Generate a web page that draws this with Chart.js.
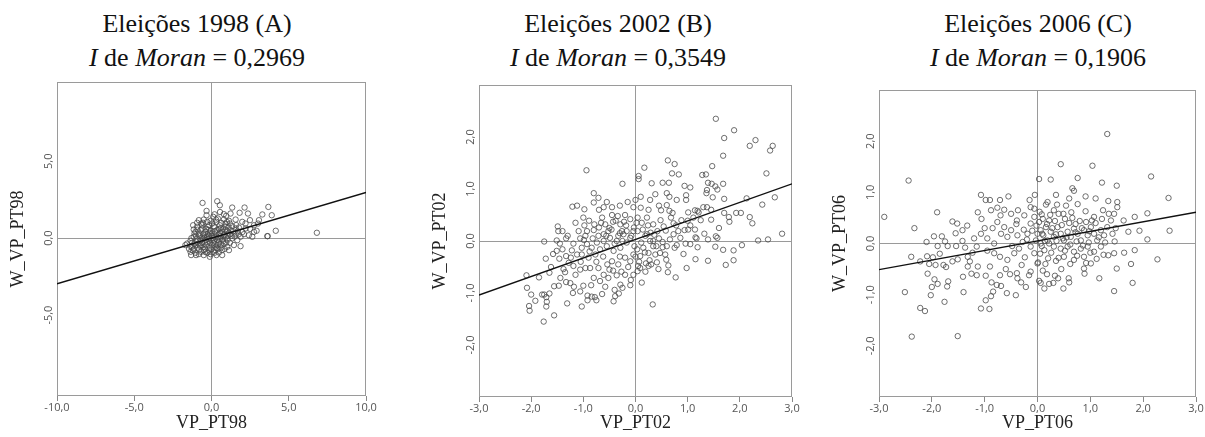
<!DOCTYPE html>
<html>
<head>
<meta charset="utf-8">
<script src="https://cdn.jsdelivr.net/npm/chart.js@4.4.1/dist/chart.umd.min.js"></script>
<style>
  body { margin: 0; width: 1205px; height: 437px; overflow: hidden; background: #fff; position: relative; }
  .titulo { position: absolute; top: 7px; width: 340px; margin-left: -170px; text-align: center;
            font-family: 'Liberation Serif', 'Times New Roman', serif; font-size: 26px; line-height: 34px; color: #111; }
  canvas { position: absolute; }
</style>
</head>
<body>
<div class="titulo" style="left:197px">Eleições 1998 (A)<br><i>I</i> de <i>Moran</i> = 0,2969</div>
<div class="titulo" style="left:618px">Eleições 2002 (B)<br><i>I</i> de <i>Moran</i> = 0,3549</div>
<div class="titulo" style="left:1038px">Eleições 2006 (C)<br><i>I</i> de <i>Moran</i> = 0,1906</div>
<canvas id="grafA"></canvas>
<canvas id="grafB"></canvas>
<canvas id="grafC"></canvas>
<script>
'use strict';

// pontos (VP_PT, W_VP_PT)
const pt98 = [[-0.58,2.29],[0.37,2.40],[0.54,2.14],[-0.32,1.77],[-0.32,1.49],[1.34,1.99],[2.14,1.99],[3.68,2.03],[0.80,1.56],[1.23,1.60],
  [1.82,1.65],[2.36,1.60],[3.29,1.54],[3.90,1.49],[-0.82,1.17],[-0.50,1.21],[-0.06,1.13],[0.32,1.06],[0.80,1.21],[1.13,1.13],
  [1.56,1.21],[1.99,1.06],[2.49,1.17],[3.07,1.17],[3.01,0.95],[2.75,0.84],[-1.19,0.84],[-0.93,0.74],[-0.61,0.84],[-0.24,0.74],
  [0.15,0.78],[0.54,0.84],[0.91,0.74],[1.34,0.78],[1.77,0.69],[2.21,0.63],[2.92,0.48],[4.16,0.48],[2.75,0.41],[2.42,0.19],
  [2.10,0.26],[2.64,0.09],[3.61,0.13],[6.82,0.35],[-1.04,0.41],[-0.71,0.52],[-0.39,0.41],[-0.06,0.48],[0.37,0.52],[0.69,0.41],
  [1.13,0.35],[1.56,0.30],[1.88,0.09],[-1.15,0.09],[-0.76,0.13],[-0.45,0.04],[-0.17,0.13],[0.19,0.09],[0.58,0.13],[0.91,0.04],
  [1.34,-0.02],[1.67,-0.13],[-1.36,-0.17],[-1.69,-0.45],[-0.97,-0.24],[-0.61,-0.30],[-0.28,-0.24],[0.11,-0.30],[0.48,-0.24],[0.80,-0.35],
  [1.19,-0.30],[1.45,-0.45],[1.88,-0.52],[-1.26,-0.56],[-0.89,-0.61],[-0.50,-0.56],[-0.11,-0.61],[0.26,-0.56],[0.63,-0.61],[1.02,-0.56],
  [-1.36,-0.89],[-1.04,-0.95],[-0.67,-0.89],[-0.28,-0.95],[0.11,-0.89],[0.48,-0.93],[0.69,-0.78],[-1.32,-1.10],[-0.82,-1.04],[-0.50,-1.10],
  [-0.06,-1.04],[-1.10,0.30],[-0.82,0.30],[-0.54,0.26],[-0.24,0.26],[0.04,0.30],[0.48,0.26],[0.80,0.19],[1.23,0.52],[1.56,0.63],
  [1.19,0.95],[0.63,1.00],[0.04,0.95],[-0.67,0.95],[-0.93,1.00],[-1.15,0.56],[-0.71,-0.13],[-0.39,-0.13],[-0.06,-0.09],[0.37,-0.09],
  [-1.04,-0.45],[-0.67,-0.45],[-0.32,-0.45],[0.04,-0.45],[0.41,-0.45],[1.13,-0.78],[-1.15,-0.71],[-0.50,-0.78],[0.26,-0.78],[-0.11,-1.21],
  [0.32,-1.10],[0.69,-1.10],[-1.58,-0.35],[-1.36,-0.52],[0.91,0.95],[-0.28,1.06],[0.41,1.28],[0.11,1.39],[3.64,0.13],
  [-1.25,-0.30],[-0.95,-0.05],[-0.62,0.62],[-0.35,0.60],[-0.10,0.35],[0.22,0.45],[0.50,0.60],[0.75,0.60],[1.00,0.50],[1.40,0.45],
  [-1.00,0.15],[-0.55,-0.02],[-0.20,-0.05],[0.10,0.00],[0.40,0.05],[0.70,-0.10],[1.05,0.15],[1.30,0.15],[-1.20,-0.80],[-0.80,-0.75],
  [-0.40,-0.70],[0.00,-0.72],[0.35,-0.65],[0.60,-0.40],[0.95,-0.30],[-0.85,-0.35],[-0.45,-0.35],[-0.10,-0.30],[0.25,-0.38],[0.55,0.35],
  [0.20,0.70],[-0.15,0.85],[-0.45,0.20],[0.85,0.25],[1.70,0.45],[2.00,0.40],[1.60,0.85],[2.20,0.95],[0.95,1.45],[0.55,1.70],[0.20,1.55],
  [-1.30,0.00],[-1.10,-0.35],[-0.90,0.55],[-0.75,-0.50],[-0.60,0.05],[-0.40,-0.90],[-0.20,0.55],[0.00,0.15],[0.15,-0.15],[0.30,0.30],
  [0.45,-0.70],[0.60,0.65],[0.75,-0.20],[0.90,0.55],[1.05,-0.10],[1.20,0.25],[1.50,0.10],[1.75,0.25],[-1.45,-0.70],[-1.00,-1.10],
  [-0.30,0.05],[0.20,-0.95],[0.85,-0.70],[-0.55,1.00],[0.30,1.20],[1.00,1.05],[2.50,0.60],[1.10,0.70],[-0.15,-0.80],[0.55,-0.05]];

const pt02 = [[1.54,2.35],[1.89,2.13],[1.70,1.98],[2.30,1.94],[2.19,1.83],[2.63,1.83],[2.58,1.74],[1.68,1.64],[1.47,1.44],[0.62,1.55],
  [0.75,1.48],[0.17,1.41],[-0.94,1.36],[0.06,1.25],[0.06,1.19],[0.70,1.30],[0.83,1.28],[1.28,1.27],[1.35,1.28],[2.51,1.30],
  [-0.25,1.10],[0.31,1.11],[0.52,1.12],[0.64,1.12],[1.39,1.12],[1.46,1.10],[1.68,1.10],[0.94,1.06],[1.05,1.03],[1.53,1.05],
  [1.57,0.99],[1.37,0.98],[1.36,0.92],[0.97,0.88],[0.60,0.92],[0.65,0.85],[0.10,0.85],[-0.80,0.92],[-0.71,0.83],[-0.80,0.74],
  [0.79,0.79],[0.97,0.79],[1.48,0.84],[1.70,0.81],[2.13,0.82],[2.67,0.84],[2.43,0.70],[0.28,0.79],[0.00,0.79],[0.45,0.68],
  [0.60,0.69],[-1.21,0.66],[-1.12,0.68],[-0.98,0.61],[-0.61,0.65],[-0.45,0.65],[-0.30,0.68],[-0.04,0.65],[0.10,0.64],[0.49,0.59],
  [0.71,0.54],[0.65,0.58],[1.01,0.55],[1.14,0.59],[1.19,0.58],[1.30,0.65],[1.37,0.65],[1.70,0.54],[1.93,0.54],[2.02,0.54],
  [2.19,0.46],[2.24,0.34],[1.79,0.46],[1.80,0.37],[1.45,0.41],[1.21,0.55],[1.11,0.45],[1.00,0.39],[0.73,0.34],[0.54,0.28],
  [0.94,0.21],[1.01,0.22],[1.14,0.22],[1.32,0.14],[1.15,0.07],[1.17,0.05],[1.54,0.09],[1.57,0.06],[1.39,0.03],[2.81,0.14],
  [2.35,0.01],[2.54,0.03],[2.04,-0.08],[1.88,-0.18],[1.68,-0.17],[1.53,-0.11],[1.88,-0.37],[1.73,-0.46],[1.39,-0.38],[1.15,-0.35],
  [0.98,-0.52],[0.77,-0.70],[1.19,-0.12],[1.05,-0.06],[0.96,-0.05],[0.79,-0.08],[0.75,-0.13],[0.60,-0.10],[0.52,-0.12],[0.59,-0.36],
  [0.63,-0.47],[0.44,-0.54],[0.33,-1.22],[0.41,-0.41],[0.27,-0.37],[0.20,-0.43],[0.05,-0.48],[0.04,-0.58],[0.19,-0.59],[-0.09,-0.75],
  [-0.10,-0.85],[-0.27,-0.59],[-0.36,-0.66],[-0.29,-0.84],[-0.32,-1.01],[-0.40,-0.94],[-0.39,-1.06],[-0.42,-1.16],[-0.64,-1.02],[-0.78,-1.08],
  [-0.84,-1.07],[-0.92,-1.05],[-0.92,-1.14],[-0.75,-1.14],[-1.03,-1.26],[-1.06,-0.97],[-1.00,-0.86],[-1.18,-0.88],[-1.25,-0.81],[-1.31,-1.20],
  [-1.33,-0.79],[-1.47,-0.86],[-1.56,-0.87],[-1.44,-0.71],[-1.56,-1.43],[-1.65,-1.01],[-1.70,-1.17],[-1.71,-1.08],[-1.75,-1.03],[-1.79,-1.03],
  [-1.76,-1.55],[-1.71,-1.26],[-2.04,-1.25],[-2.03,-1.34],[-2.00,-1.03],[-2.08,-0.90],[-2.09,-0.66],[-1.75,-0.01],[-1.72,-0.34],[-1.65,-0.61],
  [-1.51,0.01],[-1.49,0.28],[-1.48,0.19],[-1.40,0.19],[-1.33,0.05],[-1.51,-0.19],[-1.46,-0.34],[-1.40,-0.16],[-1.38,-0.54],[-1.33,-0.29],
  [-1.19,-0.05],[-1.19,-0.48],[-1.09,0.19],[-1.06,0.05],[-0.99,0.02],[-0.96,0.10],[-0.89,0.39],[-0.80,0.21],[-0.79,0.32],[-0.70,0.26],
  [-0.64,0.45],[-0.58,0.32],[-0.50,0.25],[-0.45,0.50],[-0.38,0.39],[-0.43,0.37],[-0.29,0.32],[-0.22,0.37],[-0.20,0.50],[-0.10,0.42],
  [-0.03,0.26],[0.04,0.45],[0.12,0.35],[0.22,0.45],[0.34,0.32],[0.42,0.19],[0.45,0.05],[0.29,0.16],[0.22,0.13],[0.11,-0.03],
  [0.04,0.19],[-0.04,0.19],[-0.10,0.06],[-0.17,-0.03],[-0.23,0.13],[-0.29,-0.13],[-0.36,0.00],[-0.42,-0.19],[-0.49,0.06],[-0.55,-0.10],
  [-0.61,0.00],[-0.68,-0.16],[-0.74,-0.03],[-0.77,-0.26],[-0.84,-0.13],[-0.90,-0.32],[-0.93,-0.06],[-1.03,-0.26],[-0.96,-0.52],[-0.87,-0.52],
  [-0.71,-0.52],[-0.61,-0.65],[-0.54,-0.45],[-0.45,-0.39],[-0.33,-0.45],[-0.20,-0.32],[-0.10,-0.39],[-0.04,-0.26],[0.03,-0.16],[0.09,-0.29],
  [0.15,-0.13],[0.25,-0.23],[0.34,-0.10],[0.38,-0.26],[0.47,-0.23],[0.57,-0.26],[0.66,0.03],[0.73,0.13],[0.82,0.19],[0.86,0.06],
  [0.34,0.00],[0.28,0.00],[0.19,0.10],[-0.17,0.19],[-0.26,0.19],[-0.33,0.10],[-1.03,-0.13],[-1.12,-0.26],[-1.24,-0.32],[-1.28,-0.42],
  [-1.06,-0.55],[-1.15,-0.65],[-0.80,-0.71],[-0.68,-0.77],[-0.52,-0.71],[-0.43,-0.57],[-0.20,-0.65],[-0.04,-0.65],[0.09,-0.52],[0.25,-0.48],
  [-0.93,0.19],[-0.71,0.10],[-0.61,0.13],[-0.52,0.19],
  [-1.45,-0.05],[-1.30,0.10],[-1.22,-0.18],[-1.15,0.35],[-1.05,-0.40],[-0.98,0.30],[-0.88,-0.20],[-0.82,0.05],[-0.75,-0.40],[-0.66,0.35],
  [-0.62,-0.30],[-0.56,0.10],[-0.50,-0.55],[-0.46,0.22],[-0.40,-0.05],[-0.34,0.48],[-0.30,-0.30],[-0.25,0.00],[-0.18,0.30],[-0.14,-0.50],
  [-0.08,0.10],[-0.02,-0.10],[0.02,0.35],[0.07,-0.40],[0.14,0.22],[0.18,-0.22],[0.24,0.30],[0.30,-0.45],[0.36,0.12],[0.40,-0.10],
  [0.48,0.40],[0.52,-0.02],[0.58,0.20],[0.62,-0.60],[0.68,0.45],[0.78,0.30],[0.88,0.40],[0.92,-0.25],[1.05,0.30],[1.25,0.40],
  [-1.62,-0.50],[-1.58,-0.25],[-1.85,-0.70],[-1.92,-1.15],[-1.35,-0.60],[-1.20,-1.00],[-0.58,-0.88],[-0.25,-0.90],[0.12,-0.80],[-0.70,0.60],
  [-0.55,0.75],[-0.15,0.75],[0.25,0.60],[0.38,0.90],[-1.00,0.45],[-0.30,0.15],[0.00,-0.30],[-0.85,-0.85],[1.45,0.60],[1.60,0.25]];

const pt06 = [[1.32,2.14],[0.44,1.55],[1.04,1.52],[-2.44,1.23],[0.03,1.26],[0.25,1.25],[2.15,1.31],[1.22,1.19],[1.50,1.13],[0.76,1.28],
  [-1.07,0.95],[-0.98,0.85],[-0.90,0.85],[-0.71,0.85],[-0.55,0.92],[-0.05,0.95],[0.66,1.08],[0.69,1.03],[0.91,0.92],[1.10,0.88],
  [1.34,0.83],[1.51,0.81],[2.48,0.89],[0.19,0.81],[0.37,0.76],[0.54,0.74],[0.76,0.77],[-2.90,0.52],[-2.33,0.30],[-1.90,0.61],
  [-1.61,0.43],[-1.52,0.39],[-1.33,0.35],[-1.13,0.61],[-1.06,0.48],[-0.88,0.65],[-0.76,0.70],[-0.63,0.66],[-0.50,0.58],[-0.37,0.65],
  [-0.39,0.45],[-0.26,0.27],[-0.13,0.71],[-0.06,0.68],[0.08,0.57],[0.16,0.76],[0.31,0.65],[0.49,0.58],[0.64,0.61],[0.91,0.63],
  [1.07,0.52],[1.24,0.65],[1.45,0.58],[1.63,0.45],[1.84,0.52],[2.08,0.59],[1.93,0.25],[1.72,0.23],[2.50,0.25],[2.08,0.08],
  [2.27,-0.31],[1.84,-0.13],[1.64,-0.18],[1.77,-0.40],[1.80,-0.77],[1.45,-0.93],[1.50,-0.49],[1.34,-0.23],[1.45,-0.19],[1.17,-0.68],
  [0.89,-0.59],[0.88,-0.49],[0.49,-0.88],[0.60,-0.76],[0.59,-0.68],[0.39,-0.68],[0.33,-0.63],[0.13,-0.88],[0.06,-0.77],[0.22,-0.79],
  [0.30,-0.77],[0.03,-0.73],[0.10,-0.53],[0.20,-0.29],[0.35,-0.34],[0.01,-0.37],[-0.13,-0.55],[-0.16,-0.62],[-0.31,-0.76],[-0.38,-0.68],
  [-0.39,-0.58],[-0.41,-1.01],[-0.58,-0.97],[-0.69,-0.83],[-0.77,-0.81],[-0.87,-0.76],[-0.71,-0.62],[-0.88,-1.03],[-0.84,-0.94],[-0.98,-1.11],
  [-0.91,-1.28],[-1.07,-1.27],[-0.98,-0.63],[-1.15,-0.62],[-1.13,-0.45],[-1.15,-0.06],[-1.23,-0.18],[-1.32,-0.26],[-1.40,-0.95],[-1.51,-1.81],
  [-2.38,-1.82],[-2.22,-1.26],[-2.13,-1.32],[-2.51,-0.95],[-2.02,-1.01],[-2.00,-0.85],[-1.89,-0.79],[-1.95,-0.70],[-1.76,-1.14],[-2.08,-0.59],
  [-1.69,-0.74],[-1.71,-0.84],[-1.73,-0.46],[-1.78,-0.42],[-1.93,-0.42],[-1.98,-0.27],[-2.09,-0.25],[-2.22,-0.35],[-2.39,-0.26],[-2.10,0.03],
  [-1.96,0.14],[-1.89,-0.05],[-1.81,0.14],[-1.75,0.04],[-1.70,-0.05],[-1.54,-0.05],[-1.42,0.05],[-1.37,-0.08],[-1.42,0.26],[-1.61,-0.35],
  [-1.51,-0.31],[-1.32,-0.45],[-1.25,-0.59],[-1.41,-0.65],[-0.95,-0.14],[-0.82,-0.19],[-0.71,-0.26],[-0.57,-0.32],[-0.44,-0.19],[-0.35,-0.10],
  [-0.24,-0.27],[-0.13,-0.06],[-0.06,-0.19],[0.00,-0.39],[-1.07,0.19],[-0.95,0.10],[-0.82,0.00],[-0.69,0.19],[-0.57,0.13],[-0.50,0.26],
  [-0.63,0.32],[-0.76,0.42],[-0.38,0.16],[-0.28,0.03],[-0.19,0.19],[-0.13,0.39],[-0.06,0.52],[0.03,0.42],[0.06,0.26],[0.11,0.16],
  [0.19,0.06],[0.25,0.23],[0.31,0.13],[0.38,0.32],[0.44,0.19],[0.50,0.06],[0.57,0.23],[0.63,0.13],[0.69,0.29],[0.76,0.19],
  [0.82,0.06],[0.88,0.26],[0.95,0.16],[1.01,0.32],[1.07,0.19],[1.13,0.06],[1.20,0.26],[1.26,0.16],[1.32,0.32],[1.39,0.45],
  [1.42,0.19],[0.31,-0.06],[0.44,-0.10],[0.57,-0.06],[0.69,-0.16],[0.82,-0.10],[0.95,-0.06],[1.07,-0.16],[1.20,-0.06],[0.13,-0.13],
  [0.06,0.00],[0.22,0.00],[0.50,-0.26],[0.69,-0.32],[0.88,-0.26],[1.01,-0.39],[-0.03,0.06],[0.09,0.19],[0.16,0.32],[0.22,0.45],
  [0.00,0.19],[1.51,0.71],
  [-0.25,0.55],[-0.20,0.08],[-0.10,0.25],[-0.02,0.35],[0.04,0.62],[0.10,0.48],[0.14,0.05],[0.18,0.38],[0.24,0.56],[0.28,0.30],
  [0.33,0.44],[0.36,0.05],[0.40,0.58],[0.46,0.36],[0.52,0.48],[0.55,0.12],[0.60,0.40],[0.62,-0.02],[0.66,0.50],[0.72,0.38],
  [0.74,0.04],[0.80,0.44],[0.84,0.30],[0.86,-0.04],[0.92,0.42],[0.97,0.02],[1.03,0.45],[1.10,0.40],[1.16,0.12],[1.22,0.48],
  [1.28,0.02],[1.35,0.58],[1.48,0.30],[1.46,0.04],[0.05,-0.20],[0.15,-0.40],[0.26,-0.18],[0.40,-0.28],[0.52,-0.14],[0.62,-0.40],
  [0.75,-0.24],[0.92,-0.38],[1.00,-0.18],[1.12,-0.30],[1.25,-0.22],[0.08,-0.05],[0.35,0.18],[0.48,0.10],[0.72,0.22],[0.98,0.24],
  [-0.30,-0.42],[-0.48,-0.05],[-0.60,-0.50],[-0.90,-0.45],[-1.00,0.30],[-1.20,0.10],[-0.40,0.38],[-0.70,0.55],[-0.85,0.30],[-1.28,-0.35],
  [-0.52,-0.60],[-0.22,-0.85],[0.18,-0.60],[0.45,-0.50],[-1.55,0.20],[-1.85,-0.20],[-2.05,-0.40],[-0.15,0.85],[0.35,0.95],[0.60,0.88]];

const retaA = [[-10, -2.97], [10, 2.97]];
const retaB = [[-3, -1.04], [3, 1.10]];
const retaC = [[-3, -0.51], [3, 0.61]];

// marcas dos eixos
const xTicksA = [-10, -5, 0, 5, 10];
const yTicksA = [-5, 0, 5];
const xTicksBC = [-3, -2, -1, 0, 1, 2, 3];
const yTicksBC = [-2, -1, 0, 1, 2];

const cinza = '#9a9a9a';
const fmt = (v) => v.toFixed(1).replace('.', ',');

// moldura em volta da área do gráfico
const moldura = {
  id: 'moldura',
  beforeDatasetsDraw(chart) {
    const a = chart.chartArea, c = chart.ctx;
    c.save();
    c.strokeStyle = cinza;
    c.lineWidth = 1;
    c.strokeRect(a.left + 0.5, a.top + 0.5, a.right - a.left - 1, a.bottom - a.top - 1);
    c.restore();
  }
};

function grafico(id, area, pontos, reta, xLim, yLim, xTicks, yTicks, xTitulo, yTitulo) {
  const eixoY = 52, topo = 10, direita = 16;
  const canvas = document.getElementById(id);
  canvas.width = area.right - area.left + eixoY + direita;
  canvas.height = 437 - (area.top - topo);
  canvas.style.left = (area.left - eixoY) + 'px';
  canvas.style.top = (area.top - topo) + 'px';

  const zeroLine = (ctx) => (ctx.tick && ctx.tick.value === 0) ? cinza : 'rgba(0,0,0,0)';

  return new Chart(canvas, {
    type: 'scatter',
    data: {
      datasets: [
        {
          type: 'line',
          data: reta.map(p => ({x: p[0], y: p[1]})),
          borderColor: '#111',
          borderWidth: 1.4,
          pointRadius: 0,
          order: 0
        },
        {
          data: pontos.map(p => ({x: p[0], y: p[1]})),
          pointRadius: 2.7,
          pointBackgroundColor: 'rgba(0,0,0,0)',
          pointBorderColor: '#4a4a4a',
          pointBorderWidth: 0.8,
          order: 1
        }
      ]
    },
    options: {
      responsive: false,
      animation: false,
      events: [],
      layout: { padding: { top: topo, right: direita, bottom: 0, left: 0 } },
      plugins: { legend: { display: false }, tooltip: { enabled: false } },
      scales: {
        x: {
          type: 'linear',
          min: xLim[0], max: xLim[1],
          afterFit: (s) => { s.height = 437 - area.bottom; },
          afterBuildTicks: (s) => { s.ticks = xTicks.map(v => ({value: v})); },
          border: { display: false },
          grid: { color: zeroLine, tickColor: '#888', tickLength: 5, lineWidth: 1 },
          ticks: { padding: 0, maxRotation: 0, color: '#555', font: { family: 'Open Sans', size: 11 }, callback: (v) => fmt(v) },
          title: { display: true, text: xTitulo, color: '#222', font: { family: 'Liberation Serif', size: 18 }, padding: { top: 0, bottom: 3 } }
        },
        y: {
          type: 'linear',
          min: yLim[0], max: yLim[1],
          afterFit: (s) => { s.width = eixoY; },
          afterBuildTicks: (s) => { s.ticks = yTicks.map(v => ({value: v})); },
          border: { display: false },
          grid: { color: zeroLine, drawTicks: false, lineWidth: 1 },
          ticks: { padding: -1, minRotation: 90, maxRotation: 90, crossAlign: 'center', color: '#555', font: { family: 'Open Sans', size: 11 }, callback: (v) => fmt(v) },
          title: { display: true, text: yTitulo, color: '#222', font: { family: 'Liberation Serif', size: 18 }, padding: { top: 2, bottom: 0 } }
        }
      }
    },
    plugins: [moldura]
  });
}

grafico('grafA', {left: 57, right: 366, top: 82, bottom: 396}, pt98, retaA, [-10, 10], [-10.26, 10.15], xTicksA, yTicksA, 'VP_PT98', 'W_VP_PT98');
grafico('grafB', {left: 479, right: 792, top: 85, bottom: 397}, pt02, retaB, [-3, 3], [-3, 3], xTicksBC, yTicksBC, 'VP_PT02', 'W_VP_PT02');
grafico('grafC', {left: 879, right: 1196, top: 90, bottom: 397}, pt06, retaC, [-3, 3], [-3, 3], xTicksBC, yTicksBC, 'VP_PT06', 'W_VP_PT06');
</script>
</body>
</html>
